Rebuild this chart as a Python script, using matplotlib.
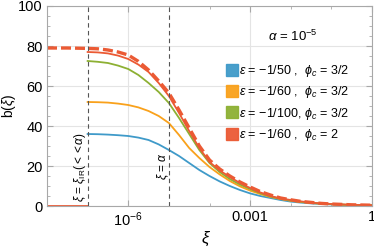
import matplotlib
matplotlib.use('Agg')
import matplotlib.pyplot as plt
from matplotlib.ticker import FixedLocator, NullFormatter
from matplotlib.lines import Line2D

plt.rcParams['font.family'] = ['Liberation Sans', 'DejaVu Sans']
plt.rcParams['mathtext.fontset'] = 'custom'
plt.rcParams['mathtext.rm'] = 'Liberation Sans'
plt.rcParams['mathtext.it'] = 'Liberation Sans:italic'

# log10(xi) sample points, quarter decades from xi_IR = 1e-7 to 1
log_xi = [-7, -6.75, -6.5, -6.25, -6, -5.75, -5.5, -5.25, -5, -4.75, -4.5, -4.25,
          -4, -3.75, -3.5, -3.25, -3, -2.75, -2.5, -2.25, -2, -1.75, -1.5, -1.25,
          -1, -0.75, -0.5, -0.25, 0]

b_blue = [36, 35.9, 35.7, 35.4, 35, 34.2, 33, 30.8, 28, 25, 21.5, 18,
          15, 12.3, 10, 8, 6.3, 5, 4, 3, 2.2, 1.7, 1.3, 1.0,
          0.8, 0.6, 0.5, 0.4, 0.3]
b_orange = [52, 51.9, 51.7, 51.2, 50.5, 49.3, 47.5, 45, 41.5, 35.5, 29, 24,
            19.5, 15.8, 12.5, 9.8, 7.7, 6, 4.5, 3.5, 2.6, 2.0, 1.5, 1.15,
            0.9, 0.7, 0.5, 0.4, 0.3]
b_green = [72.5, 72.1, 71.5, 70.2, 68.5, 65.5, 61.5, 57, 51.5, 44, 36, 28,
           21.5, 17, 13.5, 10.7, 8.5, 6.4, 4.7, 3.6, 2.7, 2.1, 1.6, 1.2,
           0.9, 0.7, 0.5, 0.4, 0.3]
b_red = [77, 76.8, 76.3, 75.2, 73.5, 70.7, 67, 61.5, 55, 46.5, 37.5, 29,
         22, 17.8, 14.5, 11.5, 9, 6.8, 5, 3.8, 3, 2.3, 1.7, 1.3,
         1.0, 0.8, 0.6, 0.5, 0.4]

# dashed reference curve (starts at xi = 1e-8)
log_xi_dash = [-8, -7.5] + log_xi
b_dash = [79, 79, 78.8, 78.6, 78, 77, 75.5, 72.3, 68, 62.5, 56.5, 48, 39, 30,
          23, 18.5, 15, 12, 9.5, 7.2, 5.5, 4, 3.1, 2.3, 1.8, 1.3,
          1.0, 0.8, 0.6, 0.5, 0.4]

labels = [r'$\epsilon$ = $-$1/50 ,  $\phi_c$ = 3/2',
          r'$\epsilon$ = $-$1/60 ,  $\phi_c$ = 3/2',
          r'$\epsilon$ = $-$1/100, $\phi_c$ = 3/2',
          r'$\epsilon$ = $-$1/60 ,  $\phi_c$ = 2']
colors = ['#3f9ac9', '#f9a11b', '#8db033', '#eb5a34']

xi_ir = 1e-7
alpha = 1e-5

fig = plt.figure(figsize=(3.74, 2.49), dpi=100)
ax = fig.add_axes([47/374, 43/249, 325/374, 200/249])

xs = [10**v for v in log_xi]
for b, c in zip([b_blue, b_orange, b_green, b_red], colors):
    ax.plot(xs, b, color=c, lw=1.3)
# all curves vanish below xi_IR
ax.plot([1e-8, xi_ir], [0, 0], color=colors[3], lw=1.3)
ax.plot([10**v for v in log_xi_dash], b_dash, color=colors[3], lw=2.4,
        ls=(0, (3, 1.2)))

ax.axvline(xi_ir, color='#555555', lw=0.8, ls=(0, (4, 3)))
ax.axvline(alpha, color='#555555', lw=0.8, ls=(0, (4, 3)))

ax.set_xscale('log')
ax.set_xlim(1e-8, 1)
ax.set_ylim(0, 100)

ax.xaxis.set_major_locator(FixedLocator([1e-6, 1e-3, 1]))
ax.set_xticklabels([r'$10^{-6}$', '0.001', '1'])
ax.xaxis.set_minor_locator(FixedLocator([10.0**k for k in range(-8, 1)]))
ax.xaxis.set_minor_formatter(NullFormatter())
ax.set_yticks([0, 20, 40, 60, 80, 100])
ax.yaxis.set_minor_locator(FixedLocator(list(range(0, 101, 5))))

for s in ax.spines.values():
    s.set_color('#a8a8a8')
    s.set_linewidth(0.8)
ax.tick_params(which='both', direction='in', top=True, right=True,
               color='#a8a8a8', labelsize=10.5, pad=3)
ax.tick_params(which='major', length=4)
ax.tick_params(which='minor', length=2.5)
ax.grid(True, which='major', color='#e4e4e4', lw=0.8)
ax.set_axisbelow(True)

ax.set_xlabel(r'$\xi$', fontsize=12)
ax.xaxis.set_label_coords(0.49, -0.12)
ax.set_ylabel(r'b($\xi$)', fontsize=10)
ax.yaxis.set_label_coords(-0.088, 0.5)

ax.text(1.15e-2, 85, r'$\alpha$ = 10$^{-5}$', fontsize=9.5, ha='center', va='center')
ax.text(6.5e-8, 2, r'$\xi$ = $\xi_{\rm IR}$($<<\alpha$)', rotation=90,
        fontsize=8.5, ha='center', va='bottom')
ax.text(7.2e-6, 13, r'$\xi$ = $\alpha$', rotation=90,
        fontsize=8.5, ha='center', va='bottom')

handles = [Line2D([], [], marker='s', ls='none', markersize=8,
                  markerfacecolor=c, markeredgecolor=c, alpha=0.95) for c in colors]
ax.legend(handles, labels, loc='upper left', bbox_to_anchor=(0.53, 0.745),
          frameon=False, fontsize=9, handletextpad=0.1, labelspacing=0.42,
          borderpad=0, handlelength=1.0)

fig.savefig('out.png', dpi=100)
